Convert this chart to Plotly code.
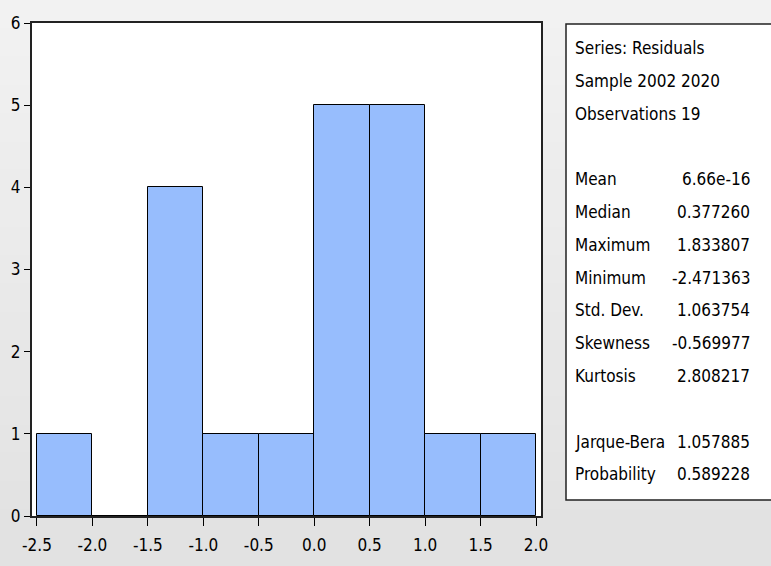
import plotly.graph_objects as go

bin_left = [-2.5, -2.0, -1.5, -1.0, -0.5, 0.0, 0.5, 1.0, 1.5]
counts = [1, 0, 4, 1, 1, 5, 5, 1, 1]
bin_width = 0.5
x_ticks = [-2.5, -2.0, -1.5, -1.0, -0.5, 0.0, 0.5, 1.0, 1.5, 2.0]
y_ticks = [0, 1, 2, 3, 4, 5, 6]

header_lines = ["Series: Residuals", "Sample 2002 2020", "Observations 19"]
stat_names = ["Mean", "Median", "Maximum", "Minimum", "Std. Dev.", "Skewness", "Kurtosis"]
stat_values = ["6.66e-16", "0.377260", "1.833807", "-2.471363", "1.063754", "-0.569977", "2.808217"]
test_names = ["Jarque-Bera", "Probability"]
test_values = ["1.057885", "0.589228"]

W, H = 771, 566
L, R, T, B = 32, 230, 23, 50
FONT = "DejaVu Sans Condensed"

centers = [b + bin_width / 2 for b in bin_left]

fig = go.Figure()
fig.add_trace(go.Bar(
    x=centers, y=counts, width=bin_width,
    marker=dict(color="#97bdfd", line=dict(color="#000000", width=1)),
    hoverinfo="skip",
))

pw = W - L - R
ph = H - T - B

def px2x(px):
    return (px - L) / pw

def py2y(py):
    return 1 - (py - T) / ph

shapes = []
n = 20
for i in range(n):
    g = int(242 - (242 - 226) * i / (n - 1))
    shapes.append(dict(type="rect", xref="paper", yref="paper",
                       x0=px2x(-2), x1=px2x(W + 2),
                       y0=py2y(H * (i + 1) / n + 1), y1=py2y(H * i / n),
                       fillcolor=f"rgb({g},{g},{g})", line=dict(width=0), layer="below"))
shapes.append(dict(type="rect", xref="paper", yref="paper", x0=0, x1=1, y0=0, y1=1,
                   fillcolor="white", line=dict(width=0), layer="below"))
shapes.append(dict(type="rect", xref="paper", yref="paper",
                   x0=px2x(566), x1=px2x(W + 5), y0=py2y(500), y1=py2y(24),
                   fillcolor="white", line=dict(color="#222222", width=1.5), layer="below"))

annotations = []
fs = 17
y0 = 48
step = 32.8
lines = []
for i, t in enumerate(header_lines):
    lines.append((t, None, y0 + i * step))
for i, (nme, v) in enumerate(zip(stat_names, stat_values)):
    lines.append((nme, v, y0 + (i + 4) * step))
for i, (nme, v) in enumerate(zip(test_names, test_values)):
    lines.append((nme, v, y0 + (i + 12) * step))

for nme, v, yy in lines:
    annotations.append(dict(text=nme, xref="paper", yref="paper", x=px2x(573), y=py2y(yy),
                            xanchor="left", yanchor="middle", showarrow=False,
                            font=dict(family=FONT, size=fs, color="#000000")))
    if v is not None:
        annotations.append(dict(text=v, xref="paper", yref="paper", x=px2x(752), y=py2y(yy),
                                xanchor="right", yanchor="middle", showarrow=False,
                                font=dict(family=FONT, size=fs, color="#000000")))

fig.update_layout(
    width=W, height=H,
    margin=dict(l=L, r=R, t=T, b=B, pad=0),
    paper_bgcolor="#ececec", plot_bgcolor="rgba(0,0,0,0)",
    showlegend=False, bargap=0,
    shapes=shapes, annotations=annotations,
    font=dict(family=FONT, size=17, color="#000000"),
)
fig.update_xaxes(range=[-2.545, 2.045], tickvals=x_ticks,
                 ticktext=[f"{v:.1f}" for v in x_ticks],
                 ticks="outside", ticklen=8, tickcolor="#000000", tickwidth=1,
                 ticklabelstandoff=5,
                 showgrid=False, zeroline=False,
                 showline=True, linecolor="#222222", linewidth=2, mirror=True,
                 tickfont=dict(family=FONT, size=17))
fig.update_yaxes(range=[0, 6], tickvals=y_ticks,
                 ticks="outside", ticklen=6, tickcolor="#000000", tickwidth=1,
                 showgrid=False, zeroline=False,
                 showline=True, linecolor="#222222", linewidth=2, mirror=True,
                 tickfont=dict(family=FONT, size=17))

fig.write_html("out.html")
